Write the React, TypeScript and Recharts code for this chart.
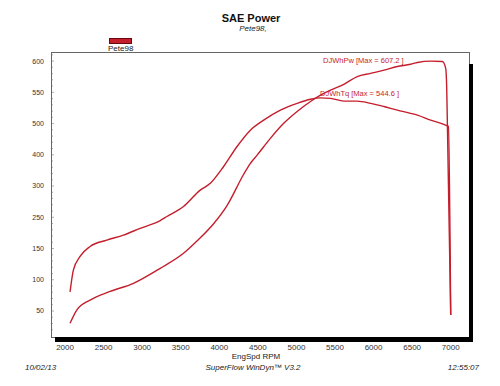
import React from 'react';
import { LineChart, Line, XAxis, YAxis } from 'recharts';

// Torque curve (DJWhTq)
const tqRpm = [2065, 2108, 2195, 2325, 2542, 2757, 2974, 3234, 3321, 3536, 3753, 3883, 4056, 4230, 4403, 4575, 4792, 5009, 5182, 5312, 5442, 5614, 5788, 5961, 6134, 6308, 6481, 6568, 6740, 6935, 6970, 7000];
const tqVal = [92, 140, 170, 192, 206, 217, 232, 249, 258, 280, 316, 331, 368, 412, 448, 470, 492, 507, 516, 519, 518, 512, 512, 507, 500, 492, 485, 481, 470, 459, 456, 41];

// Power curve (DJWhPw)
const pwRpm = [2065, 2152, 2325, 2584, 2887, 3234, 3536, 3710, 3926, 4100, 4316, 4403, 4490, 4662, 4835, 5009, 5182, 5312, 5442, 5614, 5788, 5961, 6134, 6308, 6481, 6568, 6740, 6892, 6935, 6948, 6957, 7000];
const pwVal = [23, 52, 74, 93, 111, 144, 177, 204, 242, 282, 351, 375, 393, 430, 463, 489, 511, 525, 536, 549, 566, 573, 580, 588, 593, 597, 600, 599, 584, 541, 459, 41];

// Axis ticks
const xTicks = [2000, 2500, 3000, 3500, 4000, 4500, 5000, 5500, 6000, 6500, 7000];
const yTickPos = [50, 118.75, 187.5, 256.25, 325, 393.75, 462.5, 531.25, 600];
const yTickLabels = ['50', '100', '150', '250', '300', '400', '500', '550', '600'];

const tqData = tqRpm.map((r, i) => ({ rpm: r, v: tqVal[i] }));
const pwData = pwRpm.map((r, i) => ({ rpm: r, v: pwVal[i] }));

const yStep = 68.75 / 5;
const yAllTicks: number[] = [];
for (let k = -3; k <= 41; k++) yAllTicks.push(Math.round((50 + k * yStep) * 1000) / 1000);

const RED = '#c41e2c';
const FONT = '"Liberation Sans", Arial, sans-serif';

const YTick = (props: any) => {
  const { x, y, payload } = props;
  const v = payload.value;
  const idx = yTickPos.findIndex((p) => Math.abs(p - v) < 0.01);
  const major = idx >= 0;
  return (
    <g>
      <line x1={x + 6} x2={x + 6 + (major ? 3 : 2)} y1={y} y2={y} stroke="#777" strokeWidth={0.6} />
      {major && (
        <text x={x - 1} y={y} dy="0.35em" textAnchor="end" fontSize={7} fill="#333" fontFamily={FONT}>
          {yTickLabels[idx]}
        </text>
      )}
    </g>
  );
};

const abs = (left: number, top: number, extra: React.CSSProperties = {}): React.CSSProperties => ({
  position: 'absolute',
  left,
  top,
  whiteSpace: 'nowrap',
  fontFamily: FONT,
  lineHeight: 1,
  ...extra,
});

export default function App() {
  return (
    <div style={{ position: 'absolute', left: 0, top: 0, width: 500, height: 386, background: '#fff', overflow: 'hidden' }}>
      <LineChart width={500} height={386} margin={{ top: 52, right: 31, bottom: 30, left: 21 }}>
        <XAxis
          dataKey="rpm"
          type="number"
          domain={[1818, 7237]}
          ticks={xTicks}
          allowDataOverflow
          axisLine={false}
          tickLine={false}
          tickSize={0}
          tickMargin={8}
          height={20}
          tick={{ fontSize: 8, fill: '#333', fontFamily: FONT }}
        />
        <YAxis
          type="number"
          domain={[-5, 620]}
          ticks={yAllTicks}
          allowDataOverflow
          axisLine={false}
          tickLine={false}
          tickSize={0}
          tickMargin={6}
          width={30}
          interval={0}
          tick={<YTick />}
        />
        <Line data={tqData} dataKey="v" type="monotone" stroke={RED} strokeWidth={1.4} dot={false} isAnimationActive={false} />
        <Line data={pwData} dataKey="v" type="monotone" stroke={RED} strokeWidth={1.4} dot={false} isAnimationActive={false} />
      </LineChart>

      {/* plot frame and drop shadow */}
      <div style={{ position: 'absolute', left: 51, top: 52, width: 417, height: 284, border: '1px solid #666', pointerEvents: 'none' }} />
      <div style={{ position: 'absolute', left: 469, top: 64, width: 4, height: 278, background: '#000' }} />
      <div style={{ position: 'absolute', left: 55, top: 337, width: 418, height: 5, background: '#000' }} />

      {/* title */}
      <div style={abs(0, 13, { width: 502, textAlign: 'center', fontSize: 11, fontWeight: 'bold', color: '#111' })}>SAE Power</div>
      <div style={abs(0, 25, { width: 506, textAlign: 'center', fontSize: 8, fontStyle: 'italic', color: '#222' })}>Pete98,</div>

      {/* legend */}
      <div style={{ position: 'absolute', left: 109, top: 38, width: 21, height: 4, background: RED, border: '1px solid #6a0a10' }} />
      <div style={abs(108, 45, { fontSize: 8, color: '#222' })}>Pete98</div>

      {/* series annotations */}
      <div style={abs(323, 57, { fontSize: 7.5, color: RED })}>DJWhPw [Max = 607.2 ]</div>
      <div style={abs(320, 90, { fontSize: 7.5, color: RED })}>DJWhTq [Max = 544.6 ]</div>

      {/* axis title and footer */}
      <div style={abs(0, 353, { width: 512, textAlign: 'center', fontSize: 8, color: '#222' })}>EngSpd RPM</div>
      <div style={abs(25, 364, { fontSize: 8, fontStyle: 'italic', color: '#222' })}>10/02/13</div>
      <div style={abs(0, 364, { width: 506, textAlign: 'center', fontSize: 8, fontStyle: 'italic', color: '#222' })}>SuperFlow WinDyn™ V3.2</div>
      <div style={abs(0, 364, { width: 479, textAlign: 'right', fontSize: 8, fontStyle: 'italic', color: '#222' })}>12:55:07</div>
    </div>
  );
}
